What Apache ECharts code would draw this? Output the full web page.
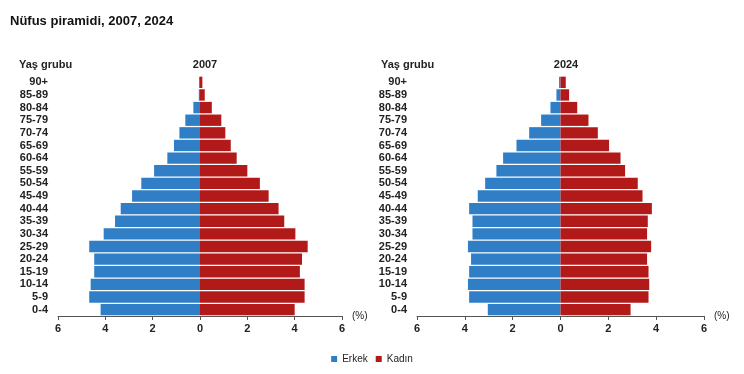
<!DOCTYPE html>
<html><head><meta charset="utf-8">
<script src="https://cdn.jsdelivr.net/npm/echarts@6/dist/echarts.min.js"></script>
<style>html,body{margin:0;padding:0;background:#fff}#c{width:744px;height:374px}</style>
</head><body><div id="c"></div>
<script>
// Age groups from bottom (0-4) to top (90+)
const ageGroups = ['0-4','5-9','10-14','15-19','20-24','25-29','30-34','35-39','40-44','45-49','50-54','55-59','60-64','65-69','70-74','75-79','80-84','85-89','90+'];
const male2007   = [4.20,4.68,4.62,4.47,4.47,4.68,4.07,3.59,3.35,2.87,2.48,1.94,1.38,1.10,0.87,0.62,0.28,0.05,0.04];
const female2007 = [4.00,4.42,4.42,4.22,4.31,4.55,4.03,3.56,3.32,2.90,2.53,2.00,1.55,1.30,1.07,0.90,0.50,0.20,0.10];
const male2024   = [3.04,3.82,3.87,3.82,3.74,3.87,3.68,3.68,3.82,3.46,3.15,2.68,2.40,1.84,1.31,0.81,0.42,0.17,0.06];
const female2024 = [2.93,3.68,3.71,3.68,3.62,3.79,3.62,3.65,3.82,3.43,3.23,2.70,2.51,2.03,1.56,1.17,0.70,0.36,0.22];
const xTicks = [6,4,2,0,2,4,6];
const yearLabels = ['2007','2024'];

const BLUE = '#2f7ec6', RED = '#b21a1a';
const FONT = '"Liberation Sans", Arial, sans-serif';
const chart = echarts.init(document.getElementById('c'));

function xAxis(i){
  return {gridIndex:i, type:'value', min:-6, max:6, interval:2,
    axisLine:{show:true, lineStyle:{color:'#555', width:1}},
    axisTick:{show:true, length:4, lineStyle:{color:'#555'}},
    splitLine:{show:false},
    axisLabel:{color:'#222', fontWeight:'bold', fontSize:11, fontFamily:FONT, margin:7,
      formatter:v=>String(Math.abs(v))},
    name:'(%)', nameLocation:'end', nameGap:10,
    nameTextStyle:{color:'#222', fontSize:10, fontFamily:FONT, verticalAlign:'middle'}
  };
}
function yAxis(i){
  return {gridIndex:i, type:'category', data:ageGroups,
    axisLine:{show:false}, axisTick:{show:false},
    axisLabel:{interval:0, color:'#222', fontWeight:'bold', fontSize:11, fontFamily:FONT, margin:10}
  };
}
function bars(name, data, color, idx, neg){
  return {name, type:'bar', xAxisIndex:idx, yAxisIndex:idx,
    data: neg ? data.map(v=>-v) : data,
    barGap:'-100%', barCategoryGap:'10%',
    itemStyle:{color}, emphasis:{disabled:true}, animation:false};
}
const small = {fontSize:11, fontWeight:'bold', color:'#222', fontFamily:FONT};

chart.setOption({
  animation:false,
  title:[
    {text:'Nüfus piramidi, 2007, 2024', left:5, top:10,
      textStyle:{fontSize:13, fontWeight:'bold', color:'#111', fontFamily:FONT}},
    {text:'Yaş grubu', left:14, top:54, textStyle:small},
    {text:'Yaş grubu', left:376, top:54, textStyle:small},
    {text:yearLabels[0], left:200, top:54, textAlign:'center', textStyle:small},
    {text:yearLabels[1], left:561, top:54, textAlign:'center', textStyle:small}
  ],
  legend:{data:['Erkek','Kadın'], left:'center', top:349, icon:'rect', itemWidth:6, itemHeight:6, itemGap:8,
    textStyle:{fontSize:10, color:'#222', fontFamily:FONT}},
  grid:[
    {left:58, width:284, top:76, height:240},
    {left:417, width:287, top:76, height:240}
  ],
  xAxis:[xAxis(0), xAxis(1)],
  yAxis:[yAxis(0), yAxis(1)],
  series:[
    bars('Erkek', male2007, BLUE, 0, true),
    bars('Kadın', female2007, RED, 0, false),
    bars('Erkek', male2024, BLUE, 1, true),
    bars('Kadın', female2024, RED, 1, false)
  ]
});
</script></body></html>
